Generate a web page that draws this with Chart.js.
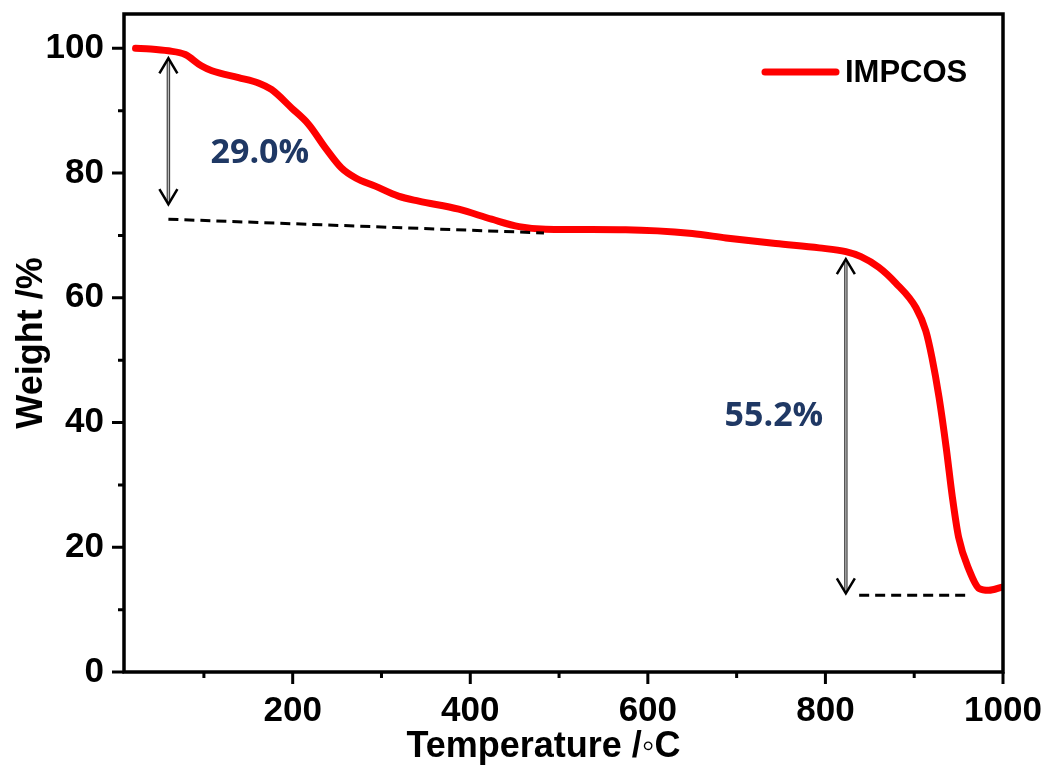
<!DOCTYPE html>
<html>
<head>
<meta charset="utf-8">
<script src="https://cdn.jsdelivr.net/npm/chart.js@4.4.1/dist/chart.umd.min.js"></script>
<style>
  html, body { margin: 0; padding: 0; background: #fff; }
  #wrap { width: 1054px; height: 769px; position: relative; }
</style>
</head>
<body>
<div id="wrap"><canvas id="tgaChart"></canvas></div>
<script>
// ─── Data ────────────────────────────────────────────────
const temps = [23, 40, 60, 79, 97, 109, 139, 162, 176, 199, 218, 237, 255, 271, 293, 319, 342, 387, 424, 455,
               485, 575, 650, 688, 744, 793, 823, 840, 860, 879, 902, 913, 920, 928, 936, 943, 950, 962, 973, 984, 999];
const weights = [100, 99.9, 99.6, 99.0, 97.2, 96.4, 95.3, 94.4, 93.4, 90.4, 87.8, 84.0, 80.8, 79.2, 77.9, 76.3, 75.5, 74.2, 72.6, 71.4,
                 71.0, 70.9, 70.3, 69.6, 68.7, 68.0, 67.4, 66.6, 64.9, 62.4, 58.4, 54.7, 50.4, 44.0, 36.0, 28.0, 21.6, 16.3, 13.4, 13.1, 13.6];
const seriesName = 'IMPCOS';

const xTicksMajor = [200, 400, 600, 800, 1000];
const yTicksMajor = [0, 20, 40, 60, 80, 100];

// annotations: double arrows [temp, top, bottom], dashed lines [t1, w1, t2, w2], labels [temp, weight, text]
const arrows = [[60, 98.4, 75.0], [823, 66.2, 12.6]];
const dashes = [[60, 72.6, 483, 70.4], [838, 12.3, 964, 12.3]];
const stepLabels = [[163, 83.2, '29.0%'], [742, 41.0, '55.2%']];

const AXIS_FONT = '"Liberation Sans", Arial, sans-serif';

// ─── Frame, ticks, annotations, legend ───────────────────
const decorPlugin = {
  id: 'decor',
  afterDatasetsDraw(chart) {
    const { ctx, chartArea: a, scales: { x, y } } = chart;
    ctx.save();

    // dashed baselines
    ctx.strokeStyle = '#000';
    ctx.lineWidth = 3;
    ctx.setLineDash([10, 6]);
    dashes.forEach(([t1, w1, t2, w2]) => {
      ctx.beginPath();
      ctx.moveTo(x.getPixelForValue(t1), y.getPixelForValue(w1));
      ctx.lineTo(x.getPixelForValue(t2), y.getPixelForValue(w2));
      ctx.stroke();
    });
    ctx.setLineDash([]);

    // double-headed arrows (outlined grey shaft, black heads)
    arrows.forEach(([t, top, bot]) => {
      const px = x.getPixelForValue(t);
      const y1 = y.getPixelForValue(top);
      const y2 = y.getPixelForValue(bot);
      ctx.strokeStyle = '#444';
      ctx.lineWidth = 3.5;
      ctx.beginPath();
      ctx.moveTo(px, y1 + 3);
      ctx.lineTo(px, y2 - 3);
      ctx.stroke();
      ctx.strokeStyle = '#bbb';
      ctx.lineWidth = 1.2;
      ctx.stroke();
      ctx.strokeStyle = '#000';
      ctx.lineWidth = 2.5;
      ctx.beginPath();
      ctx.moveTo(px - 9, y1 + 15); ctx.lineTo(px, y1); ctx.lineTo(px + 9, y1 + 15);
      ctx.moveTo(px - 9, y2 - 15); ctx.lineTo(px, y2); ctx.lineTo(px + 9, y2 - 15);
      ctx.stroke();
    });

    // percentage labels
    ctx.fillStyle = '#1f3864';
    ctx.font = 'bold 34px "Open Sans", Lato, sans-serif';
    ctx.textAlign = 'center';
    ctx.textBaseline = 'middle';
    stepLabels.forEach(([t, w, txt]) => {
      ctx.fillText(txt, x.getPixelForValue(t), y.getPixelForValue(w));
    });

    // frame
    ctx.strokeStyle = '#000';
    ctx.lineWidth = 3.5;
    ctx.strokeRect(a.left, a.top, a.right - a.left, a.bottom - a.top);

    // outward ticks: major and minor
    ctx.lineWidth = 3;
    ctx.beginPath();
    for (let v = 100; v <= 1000; v += 100) {
      const px = x.getPixelForValue(v);
      const len = xTicksMajor.includes(v) ? 12 : 6;
      ctx.moveTo(px, a.bottom);
      ctx.lineTo(px, a.bottom + len);
    }
    for (let v = 0; v <= 100; v += 10) {
      const py = y.getPixelForValue(v);
      const len = yTicksMajor.includes(v) ? 12 : 6;
      ctx.moveTo(a.left, py);
      ctx.lineTo(a.left - len, py);
    }
    ctx.stroke();

    // legend
    const ly = a.top + 58;
    ctx.strokeStyle = '#ff0000';
    ctx.lineWidth = 7;
    ctx.lineCap = 'round';
    ctx.beginPath();
    ctx.moveTo(a.right - 238, ly);
    ctx.lineTo(a.right - 167, ly);
    ctx.stroke();
    ctx.fillStyle = '#000';
    ctx.font = 'bold 31px ' + AXIS_FONT;
    ctx.textAlign = 'left';
    ctx.fillText(seriesName, a.right - 158, ly + 1);

    ctx.restore();
  },
};

new Chart(document.getElementById('tgaChart'), {
  type: 'line',
  data: {
    datasets: [{
      label: seriesName,
      data: temps.map((t, i) => ({ x: t, y: weights[i] })),
      borderColor: '#ff0000',
      backgroundColor: '#ff0000',
      borderWidth: 7,
      cubicInterpolationMode: 'monotone',
      pointRadius: 0,
      fill: false,
      borderCapStyle: 'round',
      borderJoinStyle: 'round',
    }],
  },
  options: {
    responsive: true,
    maintainAspectRatio: false,
    animation: false,
    layout: { padding: { left: 0, top: 14, right: 51, bottom: 0 } },
    plugins: { legend: { display: false }, tooltip: { enabled: false } },
    scales: {
      x: {
        type: 'linear',
        min: 10,
        max: 1000,
        afterFit: s => { s.height = 97; s.paddingLeft = 0; s.paddingRight = 0; },
        afterBuildTicks: s => { s.ticks = xTicksMajor.map(v => ({ value: v })); },
        grid: { drawOnChartArea: false, drawTicks: true, tickLength: 12, color: 'rgba(0,0,0,0)' },
        border: { display: false },
        ticks: { color: '#000', padding: 6, maxRotation: 0, callback: v => String(v),
                 font: { family: AXIS_FONT, size: 35, weight: 'bold' } },
        // trailing no-break spaces nudge the title left, as in the original figure
        title: { display: true, text: 'Temperature /\u25E6C\u00A0\u00A0\u00A0\u00A0', color: '#000', padding: { top: 0, bottom: 0 },
                 font: { family: AXIS_FONT, size: 36, weight: 'bold' } },
      },
      y: {
        min: 0,
        max: 105.5,
        afterFit: s => { s.width = 124; s.paddingTop = 0; s.paddingBottom = 0; },
        afterBuildTicks: s => { s.ticks = yTicksMajor.map(v => ({ value: v })); },
        grid: { drawOnChartArea: false, drawTicks: true, tickLength: 12, color: 'rgba(0,0,0,0)' },
        border: { display: false },
        ticks: { color: '#000', padding: 8, callback: v => String(v),
                 font: { family: AXIS_FONT, size: 35, weight: 'bold' } },
        title: { display: true, text: 'Weight /%', color: '#000', padding: { top: 10, bottom: 0 },
                 font: { family: AXIS_FONT, size: 36, weight: 'bold' } },
      },
    },
  },
  plugins: [decorPlugin],
});
</script>
</body>
</html>
